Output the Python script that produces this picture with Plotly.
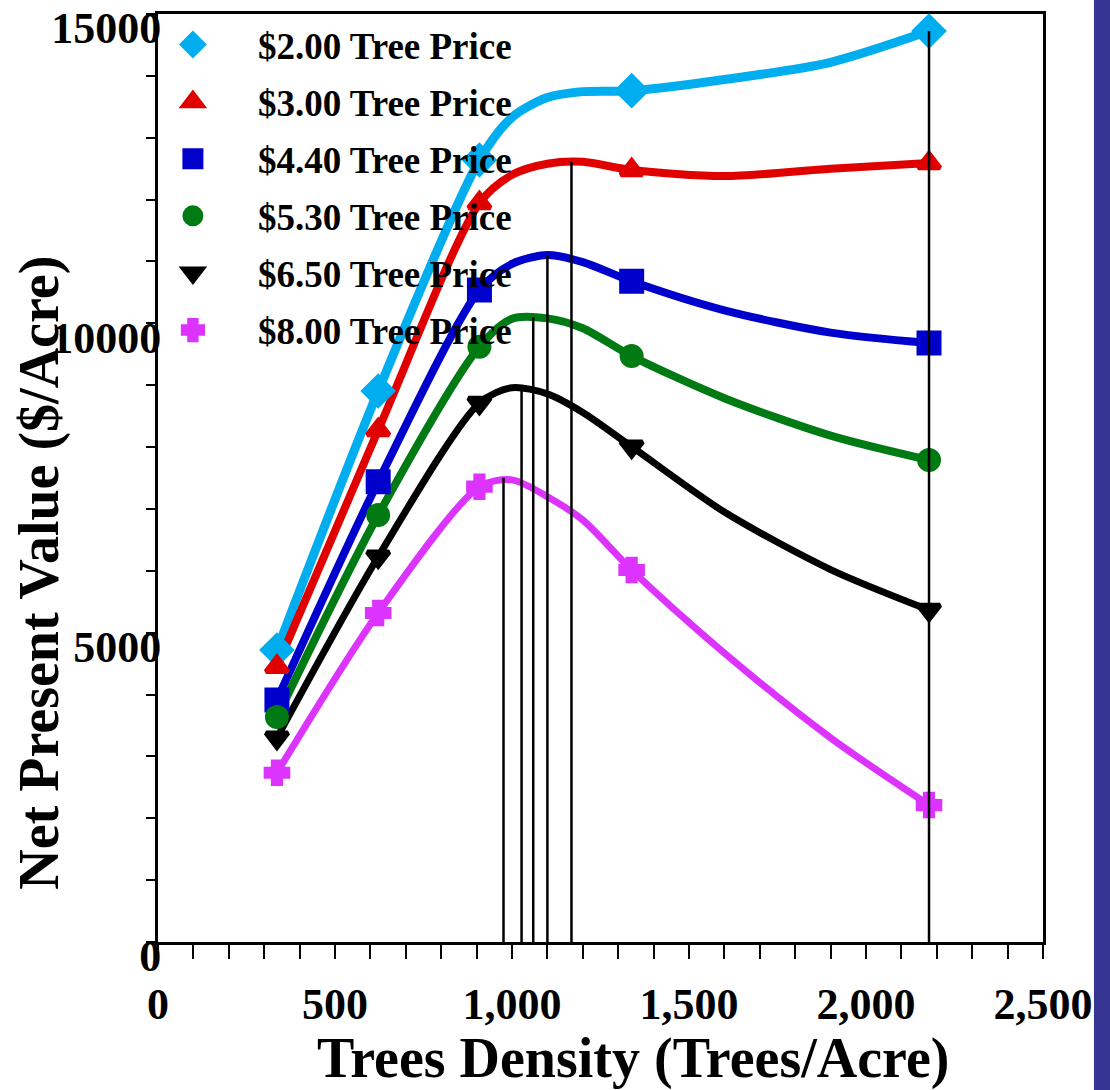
import plotly.graph_objects as go

# ---- data ----
density = [336, 622, 908, 1000, 1100, 1200, 1338, 1600, 1900, 2178]
marker_idx = [0, 1, 2, 6, 9]

npv_2_00 = [4720, 8906, 12640, 13330, 13650, 13745, 13760, 13940, 14220, 14724]
npv_3_00 = [4450, 8275, 11944, 12400, 12580, 12610, 12478, 12380, 12500, 12590]
npv_4_40 = [3911, 7440, 10538, 10960, 11104, 10990, 10680, 10210, 9850, 9682]
npv_5_30 = [3637, 6902, 9622, 10075, 10080, 9920, 9470, 8790, 8185, 7790]
npv_6_50 = [3300, 6227, 8712, 8960, 8860, 8560, 8006, 6950, 6020, 5366]
npv_8_00 = [2736, 5318, 7359, 7470, 7198, 6820, 6013, 4670, 3300, 2214]

series_names = ["$2.00 Tree Price", "$3.00 Tree Price", "$4.40 Tree Price",
                "$5.30 Tree Price", "$6.50 Tree Price", "$8.00 Tree Price"]

optimum_density = [976, 1027, 1060, 1100, 1168, 2178]
optimum_npv = [7505, 8975, 10100, 11104, 12612, 14724]

x_tick_vals = [0, 500, 1000, 1500, 2000, 2500]
x_tick_text = ["0", "500", "1,000", "1,500", "2,000", "2,500"]
y_tick_vals = [0, 5000, 10000, 15000]
y_tick_text = ["0", "5000", "10000", "15000"]

x_title = "Trees Density (Trees/Acre)"
y_title = "Net Present Value ($/Acre)"

# ---- styling ----
series_values = [npv_2_00, npv_3_00, npv_4_40, npv_5_30, npv_6_50, npv_8_00]
colors = ["#00AEEF", "#E00000", "#0000CC", "#007A12", "#000000", "#DD33FF"]
symbols = ["diamond", "triangle-up", "square", "circle", "triangle-down", "cross"]
msizes = [22, 19, 20, 19, 19, 18]
lwidths = [9, 8, 8, 8, 7, 7]

FONT = "Liberation Serif, Times New Roman, serif"

fig = go.Figure()

# curves
for vals, c, w in zip(series_values, colors, lwidths):
    fig.add_trace(go.Scatter(
        x=density, y=vals, mode="lines",
        line=dict(color=c, width=w, shape="spline", smoothing=0.8),
        showlegend=False, hoverinfo="skip"))

# markers (also legend entries)
for i, (vals, c, s, ms, name) in enumerate(zip(series_values, colors, symbols, msizes, series_names)):
    fig.add_trace(go.Scatter(
        x=[density[k] for k in marker_idx], y=[vals[k] for k in marker_idx],
        mode="markers", name=name, legendgroup=f"g{i}",
        marker=dict(symbol=s, size=ms, color=c, line=dict(color=c, width=5))))

# optimum drop lines
vx, vy = [], []
for d, v in zip(optimum_density, optimum_npv):
    vx += [d, d, None]
    vy += [0, v, None]
fig.add_trace(go.Scatter(x=vx, y=vy, mode="lines",
                         line=dict(color="black", width=2.5),
                         showlegend=False, hoverinfo="skip"))

fig.update_layout(
    width=1110, height=1090,
    margin=dict(l=158, r=67, t=14, b=148, autoexpand=False),
    paper_bgcolor="white", plot_bgcolor="white",
    font=dict(family=FONT, color="black", weight="bold"),
    showlegend=True,
    legend=dict(x=-0.034, y=1.0, xanchor="left", yanchor="top",
                bgcolor="rgba(0,0,0,0)", traceorder="grouped",
                tracegroupgap=6, itemwidth=120,
                font=dict(family=FONT, size=37, color="black", weight="bold")),
    xaxis=dict(range=[0, 2500], tickvals=x_tick_vals, ticktext=x_tick_text,
               showgrid=False, zeroline=False, automargin=False,
               showline=True, linecolor="black", linewidth=3, mirror=True,
               ticks="outside", ticklen=14, tickwidth=2, tickcolor="black",
               minor=dict(dtick=100, ticks="outside", ticklen=14, tickwidth=2, tickcolor="black"),
               tickfont=dict(family=FONT, size=44, color="black", weight="bold"),
               ticklabelstandoff=7),
    yaxis=dict(range=[0, 15000], tickvals=y_tick_vals, ticktext=y_tick_text,
               showgrid=False, zeroline=False, automargin=False,
               showline=True, linecolor="black", linewidth=3, mirror=True,
               ticks="outside", ticklen=9, tickwidth=2, tickcolor="black",
               minor=dict(dtick=1000, ticks="outside", ticklen=9, tickwidth=2, tickcolor="black"),
               tickfont=dict(family=FONT, size=44, color="black", weight="bold"),
               ticklabelstandoff=-24, ticklabelshift=14),
    annotations=[
        dict(text=x_title, xref="paper", yref="paper", x=0.5367, y=-0.126,
             showarrow=False, xanchor="center", yanchor="middle",
             font=dict(family=FONT, size=56, color="black", weight="bold")),
        dict(text=y_title, xref="paper", yref="paper", x=-0.1333, y=0.398,
             showarrow=False, xanchor="center", yanchor="middle", textangle=-90,
             font=dict(family=FONT, size=56, color="black", weight="bold")),
    ],
    shapes=[dict(type="rect", xref="paper", yref="paper",
                 x0=1.0576, x1=1.1, y0=-0.2, y1=1.1,
                 fillcolor="#363594", line=dict(width=0), layer="above")],
)

fig.write_html("out.html")
